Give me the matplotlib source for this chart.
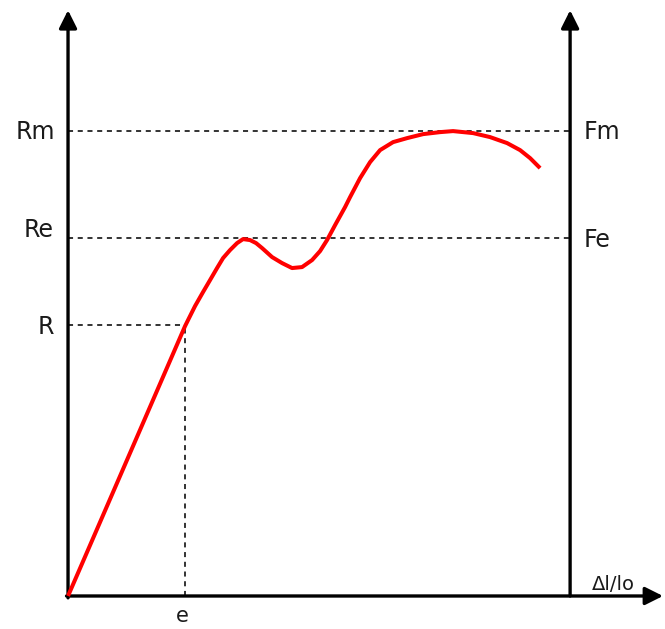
import matplotlib
matplotlib.use("Agg")
import matplotlib.pyplot as plt

# stress-strain curve (arbitrary units, Rm = 100)
strain = [0, 23.31, 24.10, 25.30, 26.89, 28.29, 29.68, 30.88, 32.27, 33.67,
          34.86, 36.25, 37.45, 38.65, 40.64, 42.63, 44.62, 46.61, 48.61,
          50.20, 51.59, 53.19, 55.18, 56.18, 58.17, 60.16, 62.15, 64.74,
          67.53, 70.72, 74.10, 76.69, 80.68, 84.06, 87.45, 90.04, 92.03, 94.02]
stress = [0, 58.06, 59.78, 62.37, 65.38, 67.96, 70.54, 72.69, 74.41, 75.91,
          76.77, 76.56, 75.91, 74.84, 72.90, 71.61, 70.54, 70.75, 72.26,
          74.19, 76.56, 79.78, 83.66, 85.81, 89.89, 93.33, 95.91, 97.63,
          98.49, 99.35, 99.78, 100.0, 99.57, 98.71, 97.42, 95.91, 94.19, 92.04]

levels = [100.0, 77.0, 58.3]
left_labels = ["Rm", "Re", "R"]
right_labels = ["Fm", "Fe"]
e_strain = 23.3
x_right = 100.0
y_top = 126.0
x_end = 118.5

fig = plt.figure(figsize=(6.65, 6.29), dpi=100)
ax = fig.add_axes([0, 0, 1, 1])
ax.set_xlim(-13.55, 118.9)
ax.set_ylim(-7.1, 128.2)
ax.axis("off")

# axes with arrow heads
arrow = dict(arrowstyle="-|>", lw=2.4, color="black", mutation_scale=27,
             shrinkA=0, shrinkB=0)
ax.annotate("", xy=(0, y_top), xytext=(0, -0.4), arrowprops=arrow)
ax.annotate("", xy=(x_right, y_top), xytext=(x_right, 0), arrowprops=arrow)
ax.annotate("", xy=(x_end, 0), xytext=(-0.3, 0), arrowprops=arrow)

# dashed guide lines
dash = dict(color="#333333", lw=1.4, linestyle=(0, (2.6, 2.4)), zorder=1)
ax.plot([0, x_right], [levels[0]] * 2, **dash)
ax.plot([0, x_right], [levels[1]] * 2, **dash)
ax.plot([0, e_strain], [levels[2]] * 2, **dash)
ax.plot([e_strain, e_strain], [0, levels[2]], **dash)

ax.plot(strain, stress, color="red", lw=2.9, solid_joinstyle="round",
        solid_capstyle="butt", zorder=3)

tc = "#1a1a1a"
fs = 17
ax.text(-2.6, levels[0] - 0.2, left_labels[0], ha="right", va="center", fontsize=fs, color=tc)
ax.text(-2.8, levels[1] + 1.8, left_labels[1], ha="right", va="center", fontsize=fs, color=tc)
ax.text(-2.8, levels[2] - 0.4, left_labels[2], ha="right", va="center", fontsize=fs, color=tc)
ax.text(102.6, levels[0] - 0.2, right_labels[0], ha="left", va="center", fontsize=fs, color=tc)
ax.text(102.6, levels[1] - 0.4, right_labels[1], ha="left", va="center", fontsize=fs, color=tc)
ax.text(e_strain - 0.6, -4.4, "e", ha="center", va="center", fontsize=15, color=tc)
ax.text(104.4, 1.2, "Δl/lo", ha="left", va="baseline", fontsize=14, color=tc)

fig.savefig("out.png", dpi=100)
